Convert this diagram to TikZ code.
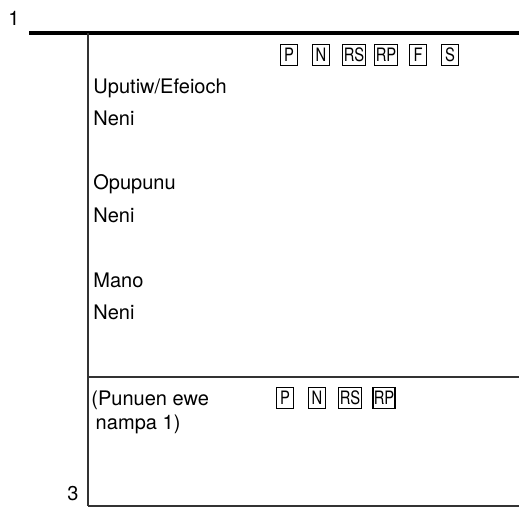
\documentclass[tikz,border=0pt]{standalone}
\usepackage{fontspec}
\setmainfont{TeX Gyre Heros}
\newfontfamily\flagfont[FakeStretch=0.8]{TeX Gyre Heros}
\usetikzlibrary{positioning}

\begin{document}
\begin{tikzpicture}[
    x=0.02cm, y=-0.02cm,
    % plain text lines
    entry/.style={
        anchor=west, % left aligned
        inner sep=0pt,
        font=\fontsize{11.4}{13.5}\selectfont
      },
    % small boxed letters
    flag/.style={
        draw, % box border
        rectangle,
        line width=0.5pt,
        inner xsep=0.6pt,
        inner ysep=1pt,
        minimum width=10pt,
        minimum height=12pt,
        font=\flagfont\fontsize{10.5}{11}\selectfont
      },
    % rules of the table
    rule/.style={line width=0.7pt, draw=black!80}
  ]

  % frame
  \useasboundingbox (0,0) rectangle (519,508);
  \coordinate (topL) at (29,33);
  \coordinate (topR) at (519,33);
  \coordinate (colT) at (88,33);
  \coordinate (colB) at (88,506);
  \coordinate (midL) at (88,377);
  \coordinate (midR) at (519,377);
  \coordinate (botR) at (519,506);

  \draw[line width=1.8pt] (topL) -- (topR); % thick top rule
  \draw[rule] (colT) -- (colB);
  \draw[rule] (midL) -- (midR);
  \draw[rule] (colB) -- (botR);

  % row numbers
  \node[entry] (one) at (8,18) {1};
  \node[entry] (three) at (67,494) {3};

  % upper part
  \node[entry] (u1) at (93,88) {Uputiw/Efeioch};
  \node[entry] (u2) at (93,118) {Neni};
  \node[entry] (o1) at (93,184) {Opupunu};
  \node[entry] (o2) at (93,215) {Neni};
  \node[entry] (m1) at (93,280) {Mano};
  \node[entry] (m2) at (93,312) {Neni};

  % boxed letters, upper row
  \node[flag] (fP) at (289,55) {P};
  \node[flag] (fN) at (321,55) {N};
  \node[flag] (fRS) at (354,55) {RS};
  \node[flag] (fRP) at (386,55) {RP};
  \node[flag] (fF) at (418,55) {F};
  \node[flag] (fS) at (450,55) {S};

  % lower part
  \node[entry, anchor=north west, align=left] (pn) at (91,391)
    {(Punuen ewe\\\hspace{2.5pt}nampa 1)};

  % boxed letters, lower row
  \node[flag] (gP) at (285,398) {P};
  \node[flag] (gN) at (317,398) {N};
  \node[flag] (gRS) at (350,398) {RS};
  \node[flag, line width=1pt] (gRP) at (384,398) {RP};

\end{tikzpicture}
\end{document}
